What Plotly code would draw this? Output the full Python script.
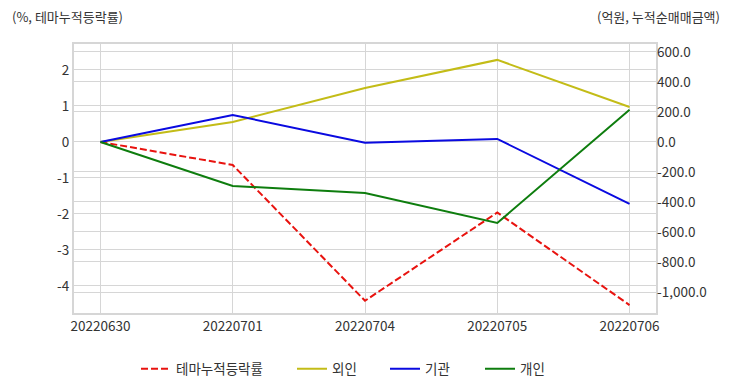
import plotly.graph_objects as go

dates = ["20220630", "20220701", "20220704", "20220705", "20220706"]
theme_rate = [0.0, -0.64, -4.41, -1.96, -4.53]
foreign = [0.0, 133.0, 360.0, 547.0, 233.0]
institution = [0.0, 180.0, -5.0, 20.0, -413.0]
individual = [0.0, -293.0, -340.0, -540.0, 215.0]

left_ticks = [2, 1, 0, -1, -2, -3, -4]
left_text = ["2", "1", "0", "-1", "-2", "-3", "-4"]
right_ticks = [600, 400, 200, 0, -200, -400, -600, -800, -1000]
right_text = ["600.0", "400.0", "200.0", "0.0", "-200.0", "-400.0", "-600.0", "-800.0", "-1,000.0"]

FONT = "Noto Sans CJK KR"
TXT = "#333333"
GRID = "#d6d6d6"
PW = 582.0
PH = 269.0

def px_x(p):
    return (p - 74) / PW

def px_y(p):
    return (313 - p) / PH

fig = go.Figure()
xi = list(range(len(dates)))
fig.add_trace(go.Scatter(x=xi, y=theme_rate, name="테마누적등락률", mode="lines",
                         line=dict(color="#e8130f", width=2, dash="7px,3px"), yaxis="y",
                         legend="legend"))
fig.add_trace(go.Scatter(x=xi, y=foreign, name="외인", mode="lines",
                         line=dict(color="#c3bc17", width=2), yaxis="y2", legend="legend2"))
fig.add_trace(go.Scatter(x=xi, y=institution, name="기관", mode="lines",
                         line=dict(color="#0a0ae0", width=2), yaxis="y2", legend="legend3"))
fig.add_trace(go.Scatter(x=xi, y=individual, name="개인", mode="lines",
                         line=dict(color="#0e7d0e", width=2), yaxis="y2", legend="legend4"))

def leg(px):
    return dict(orientation="h", x=px_x(px), xanchor="left", y=px_y(369), yanchor="middle",
                font=dict(size=13.5, color=TXT), bgcolor="rgba(0,0,0,0)", borderwidth=0)

fig.update_layout(
    width=732, height=392,
    margin=dict(l=74, r=76, t=44, b=79, autoexpand=False),
    paper_bgcolor="white", plot_bgcolor="white",
    font=dict(family=FONT, size=13, color=TXT),
    showlegend=True,
    legend=leg(136),
    legend2=leg(292),
    legend3=leg(385),
    legend4=leg(480),
    xaxis=dict(range=[-0.2, 4.2], tickvals=xi, ticktext=dates, automargin=False,
               showgrid=True, gridcolor=GRID, gridwidth=1,
               showline=True, linecolor=GRID, linewidth=2, mirror=True,
               zeroline=False, ticks="", tickfont=dict(size=13.5, color=TXT)),
    yaxis=dict(range=[-4.75, 2.72], tickvals=left_ticks, ticktext=left_text, automargin=False,
               showgrid=True, gridcolor=GRID, gridwidth=1,
               showline=True, linecolor=GRID, linewidth=2, mirror=True,
               zeroline=False, ticks="", tickfont=dict(size=13.5, color=TXT)),
    yaxis2=dict(range=[-1140, 653], tickvals=right_ticks, ticktext=right_text, automargin=False,
                overlaying="y", side="right",
                showgrid=True, gridcolor=GRID, gridwidth=1,
                showline=False, zeroline=False, ticks="",
                tickfont=dict(size=13.5, color=TXT)),
    annotations=[
        dict(text="(%, 테마누적등락률)", xref="paper", yref="paper", x=px_x(10), y=px_y(16),
             xanchor="left", yanchor="middle", showarrow=False, font=dict(size=13, color=TXT)),
        dict(text="(억원, 누적순매매금액)", xref="paper", yref="paper", x=px_x(722), y=px_y(16),
             xanchor="right", yanchor="middle", showarrow=False, font=dict(size=13, color=TXT)),
    ],
)

fig.write_html("out.html", config={"displayModeBar": False},
               post_script="document.body.style.margin='0';document.body.style.padding='0';")
